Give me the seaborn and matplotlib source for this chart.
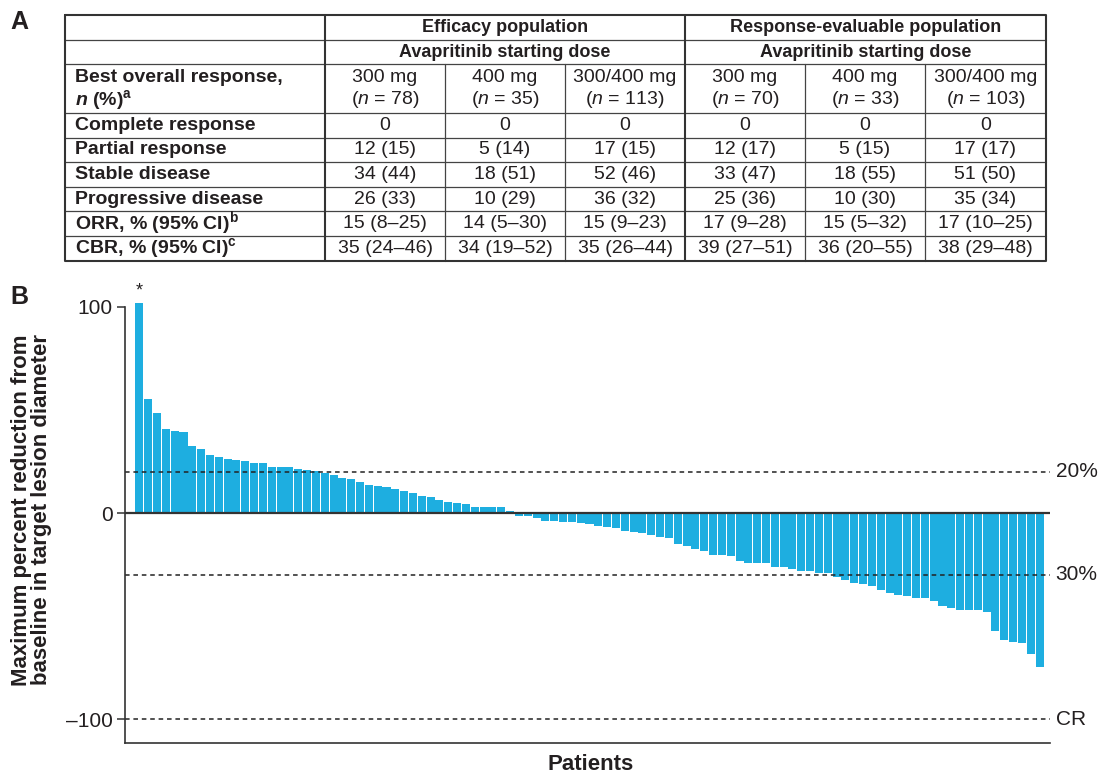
import numpy as np
import pandas as pd
import matplotlib
matplotlib.use("Agg")
import matplotlib.pyplot as plt
import seaborn as sns

# Panel A table values
group_titles = ["Efficacy population", "Response-evaluable population"]
dose_labels = ["300 mg", "400 mg", "300/400 mg", "300 mg", "400 mg", "300/400 mg"]
n_patients = [78, 35, 113, 70, 33, 103]
row_names = ["Complete response", "Partial response", "Stable disease",
             "Progressive disease", "ORR, % (95% CI)", "CBR, % (95% CI)"]
row_notes = ["", "", "", "", "b", "c"]
complete_response = ["0", "0", "0", "0", "0", "0"]
partial_response = ["12 (15)", "5 (14)", "17 (15)", "12 (17)", "5 (15)", "17 (17)"]
stable_disease = ["34 (44)", "18 (51)", "52 (46)", "33 (47)", "18 (55)", "51 (50)"]
progressive_disease = ["26 (33)", "10 (29)", "36 (32)", "25 (36)", "10 (30)", "35 (34)"]
orr = ["15 (8–25)", "14 (5–30)", "15 (9–23)", "17 (9–28)", "15 (5–32)", "17 (10–25)"]
cbr = ["35 (24–46)", "34 (19–52)", "35 (26–44)", "39 (27–51)", "36 (20–55)", "38 (29–48)"]

# Panel B waterfall values (one bar per patient)
best_change = [102, 55.4, 48.6, 40.9, 39.9, 39.4, 32.6, 31.1, 28.3, 27.3, 26.3,
               25.8, 25.4, 24.4, 24.4, 22.5, 22.5, 22.5, 21.5, 21.0, 20.5, 19.5,
               18.5, 17, 16.5, 15, 13.5, 13, 12.5, 11.5, 10.5, 10, 8.5, 8, 6.5,
               5.5, 5, 4.5, 3, 3, 3, 3, 1,
               -1.5, -1.5, -2.5, -4, -4, -4.5, -4.5, -5, -5.5, -6, -6.5, -7,
               -8.5, -9, -9.5, -10.5, -11.5, -12, -15, -16, -17.5, -18.5, -20.5,
               -20.5, -21,
               -23, -24.4, -24.4, -24.4, -25.9, -25.9, -27.3, -28.3, -28.3, -28.8,
               -28.8, -30.8, -32.3, -33.7, -34.2, -35.2, -37.1, -38.6, -39.6,
               -40.1, -41.1, -41.1, -42.5, -44.9, -45.9, -46.9, -46.9, -46.9,
               -47.9, -57, -61.4, -62.4, -62.9, -68.2, -74.5]
thresholds = [20, -30, -100]
threshold_labels = ["20%", "30%", "CR"]

sns.set_theme(style="ticks")
plt.rcParams["font.family"] = ["Liberation Sans", "DejaVu Sans"]
plt.rcParams["mathtext.fontset"] = "custom"
plt.rcParams["mathtext.rm"] = "Liberation Sans"
plt.rcParams["mathtext.it"] = "Liberation Sans:italic"
plt.rcParams["mathtext.bf"] = "Liberation Sans:bold"
plt.rcParams["mathtext.bfit"] = "Liberation Sans:italic:bold"

ink = "#231f20"
fig = plt.figure(figsize=(11.11, 7.75), dpi=100)

# ---- Panel A: table drawn in pixel coordinates ----
tab = fig.add_axes([0, 0, 1, 1])
tab.set_xlim(0, 1111)
tab.set_ylim(775, 0)
tab.axis("off")

col_x = [65, 325, 445, 565, 685, 805, 925, 1046]
row_y = [15, 40, 64, 113, 138, 162, 187, 211, 236, 261]
fs_head = 13
fs = 14

# grid lines
for y in row_y[1:-1]:
    tab.plot([col_x[0], col_x[-1]], [y, y], color="#444", lw=0.9)
for x in [445, 565, 805, 925]:
    tab.plot([x, x], [64, 261], color="#444", lw=0.9)
for x in [325, 685]:
    tab.plot([x, x], [15, 261], color="#333", lw=1.5)
tab.plot([65, 1046, 1046, 65, 65], [15, 15, 261, 261, 15], color="#333", lw=1.5)

# group headers
for g, title in enumerate(group_titles):
    cx = (col_x[1 + 3 * g] + col_x[4 + 3 * g]) / 2
    tab.text(cx, 28, title, ha="center", va="center", fontsize=fs_head,
             fontweight="bold", color=ink)
    tab.text(cx, 52.5, "Avapritinib starting dose", ha="center", va="center",
             fontsize=fs_head, fontweight="bold", color=ink)

# dose headers
tab.text(75, 77, "Best overall response,", ha="left", va="center", fontsize=fs,
         fontweight="bold", color=ink)
tab.text(75, 100, r"$\mathbfit{n}$ (%)$^{\mathbf{a}}$", ha="left", va="center",
         fontsize=fs, fontweight="bold", color=ink)
for j in range(6):
    cx = (col_x[j + 1] + col_x[j + 2]) / 2
    tab.text(cx, 77, dose_labels[j], ha="center", va="center", fontsize=fs, color=ink)
    tab.text(cx, 100, "($n$ = " + str(n_patients[j]) + ")", ha="center",
             va="center", fontsize=fs, color=ink)

# body rows
body = [complete_response, partial_response, stable_disease,
        progressive_disease, orr, cbr]
for i, name in enumerate(row_names):
    cy = (row_y[3 + i] + row_y[4 + i]) / 2
    label = name
    if row_notes[i]:
        label = name + r"$^{\mathbf{" + row_notes[i] + "}}$"
    tab.text(75, cy, label, ha="left", va="center", fontsize=fs,
             fontweight="bold", color=ink)
    for j in range(6):
        cx = (col_x[j + 1] + col_x[j + 2]) / 2
        tab.text(cx, cy, body[i][j], ha="center", va="center", fontsize=fs, color=ink)

tab.text(10, 22, "A", ha="left", va="center", fontsize=18, fontweight="bold", color=ink)
tab.text(10, 297, "B", ha="left", va="center", fontsize=18, fontweight="bold", color=ink)

# ---- Panel B: waterfall ----
ax = fig.add_axes([125 / 1111, 32 / 775, 925 / 1111, 448.4 / 775])
df = pd.DataFrame({"patient": np.arange(len(best_change)), "change": best_change})
sns.barplot(data=df, x="patient", y="change", color="#1eaee0", saturation=1,
            width=0.91, errorbar=None, linewidth=0, ax=ax)

ax.set_xlim(-1.63, 103.18)
ax.set_ylim(-111.5, 106)
ax.set_xticks([])
ax.set_yticks([-100, 0, 100])
ax.set_yticklabels(["–100", "0", "100"])
ax.tick_params(axis="y", direction="out", length=6, width=1.1, colors="#333",
               labelsize=15, labelcolor=ink, pad=3)
sns.despine(ax=ax)
ax.spines["left"].set_bounds(-111.5, 100)
for side in ["left", "bottom"]:
    ax.spines[side].set_color("#333")
    ax.spines[side].set_linewidth(1.2)

ax.axhline(0, color="#333", lw=1.6)
for t, lab in zip(thresholds, threshold_labels):
    ax.axhline(t, color="#222", lw=1.1, ls=(0, (3, 2.5)))
    ax.text(1.006, t, lab, transform=ax.get_yaxis_transform(), ha="left",
            va="center", fontsize=15, color=ink)

ax.text(0, best_change[0] + 1.5, "*", ha="center", va="bottom", fontsize=13, color=ink)

ax.set_xlabel("Patients", fontsize=16, fontweight="bold", color=ink)
ax.xaxis.set_label_coords(0.503, -0.025)
ax.set_ylabel("Maximum percent reduction from\nbaseline in target lesion diameter",
              fontsize=16, fontweight="bold", color=ink, linespacing=0.95)
ax.yaxis.set_label_coords(-0.079, 0.52)

fig.savefig("out.png", dpi=100)
